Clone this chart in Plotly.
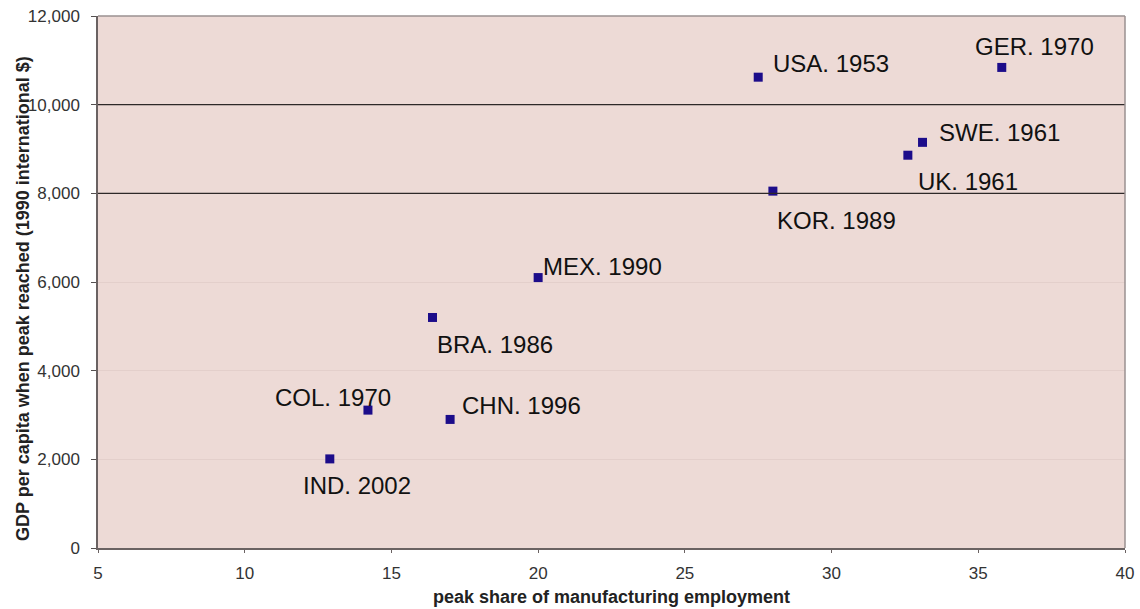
import plotly.graph_objects as go

countries = ["USA. 1953", "GER. 1970", "SWE. 1961", "UK. 1961", "KOR. 1989",
             "MEX. 1990", "BRA. 1986", "COL. 1970", "CHN. 1996", "IND. 2002"]
peak_share = [27.5, 35.8, 33.1, 32.6, 28.0, 20.0, 16.4, 14.2, 17.0, 12.9]
gdp_at_peak = [10620, 10840, 9150, 8860, 8050, 6100, 5200, 3110, 2900, 2010]

x_ticks = [5, 10, 15, 20, 25, 30, 35, 40]
y_ticks = [0, 2000, 4000, 6000, 8000, 10000, 12000]
y_tick_text = ["0", "2,000", "4,000", "6,000", "8,000", "10,000", "12,000"]
dark_grid = [8000, 10000]

# label offsets (pixels) and anchors
label_style = {
    "USA. 1953": dict(xshift=13, yshift=14, xanchor="left"),
    "GER. 1970": dict(xshift=33, yshift=21, xanchor="center"),
    "SWE. 1961": dict(xshift=14, yshift=10, xanchor="left"),
    "UK. 1961": dict(xshift=8, yshift=-26, xanchor="left"),
    "KOR. 1989": dict(xshift=2, yshift=-29, xanchor="left"),
    "MEX. 1990": dict(xshift=3, yshift=11, xanchor="left"),
    "BRA. 1986": dict(xshift=2, yshift=-27, xanchor="left"),
    "COL. 1970": dict(xshift=25, yshift=13, xanchor="right"),
    "CHN. 1996": dict(xshift=10, yshift=14, xanchor="left"),
    "IND. 2002": dict(xshift=27, yshift=-27, xanchor="center"),
}

FONT = "Liberation Sans, Arial, sans-serif"

fig = go.Figure()

shapes = []
for gy in dark_grid:
    shapes.append(dict(type="line", xref="paper", yref="y", x0=0, x1=1, y0=gy, y1=gy,
                       line=dict(color="#2e2828", width=1.4), layer="above"))
# lighter top / right frame
shapes.append(dict(type="line", xref="paper", yref="paper", x0=0, x1=1, y0=1, y1=1,
                   line=dict(color="#9a9090", width=1.5)))
shapes.append(dict(type="line", xref="paper", yref="paper", x0=1, x1=1, y0=0, y1=1,
                   line=dict(color="#9a9090", width=1.5)))

fig.add_trace(go.Scatter(
    x=peak_share, y=gdp_at_peak, mode="markers",
    marker=dict(symbol="square", size=9, color="#1C0C8A",
                line=dict(width=0)),
    hoverinfo="skip", showlegend=False,
))

annotations = []
for name, xv, yv in zip(countries, peak_share, gdp_at_peak):
    st = label_style[name]
    annotations.append(dict(
        x=xv, y=yv, xref="x", yref="y", text=name, showarrow=False,
        xanchor=st["xanchor"], yanchor="middle",
        xshift=st["xshift"], yshift=st["yshift"],
        font=dict(family=FONT, size=24, color="#111111"),
    ))

# axis titles
annotations.append(dict(
    x=0.5, y=0, xref="paper", yref="paper", yshift=-49, yanchor="middle",
    text="<b>peak share of manufacturing employment</b>", showarrow=False,
    font=dict(family=FONT, size=18, color="#222222"),
))
annotations.append(dict(
    x=0, y=0.5, xref="paper", yref="paper", xshift=-75, yshift=-17,
    xanchor="center", yanchor="middle", textangle=-90,
    text="<b>GDP per capita when peak reached (1990 international $)</b>",
    showarrow=False, font=dict(family=FONT, size=18, color="#222222"),
))

fig.update_layout(
    width=1140, height=609,
    margin=dict(l=98, r=15, t=16, b=61),
    paper_bgcolor="white",
    plot_bgcolor="#EDDAD6",
    font=dict(family=FONT, color="#222222"),
    annotations=annotations,
    shapes=shapes,
    xaxis=dict(
        range=[5, 40], tickvals=x_ticks, ticktext=[str(t) for t in x_ticks],
        showgrid=False, zeroline=False, automargin=False,
        showline=True, linecolor="#6a6262", linewidth=1.5,
        ticks="outside", ticklen=3, tickcolor="#6a6262",
        tickfont=dict(family=FONT, size=17, color="#333333"),
        ticklabelstandoff=6,
    ),
    yaxis=dict(
        range=[0, 12000], tickvals=y_ticks, ticktext=y_tick_text,
        showgrid=True, gridcolor="#E3CFCB", gridwidth=1, zeroline=False,
        automargin=False,
        showline=True, linecolor="#6a6262", linewidth=1.5,
        ticks="outside", ticklen=5, tickcolor="#555050",
        tickfont=dict(family=FONT, size=17, color="#333333"),
        ticklabelstandoff=8,
    ),
)

fig.write_html("out.html", config={"displayModeBar": False},
               post_script="document.body.style.margin='0px';")
